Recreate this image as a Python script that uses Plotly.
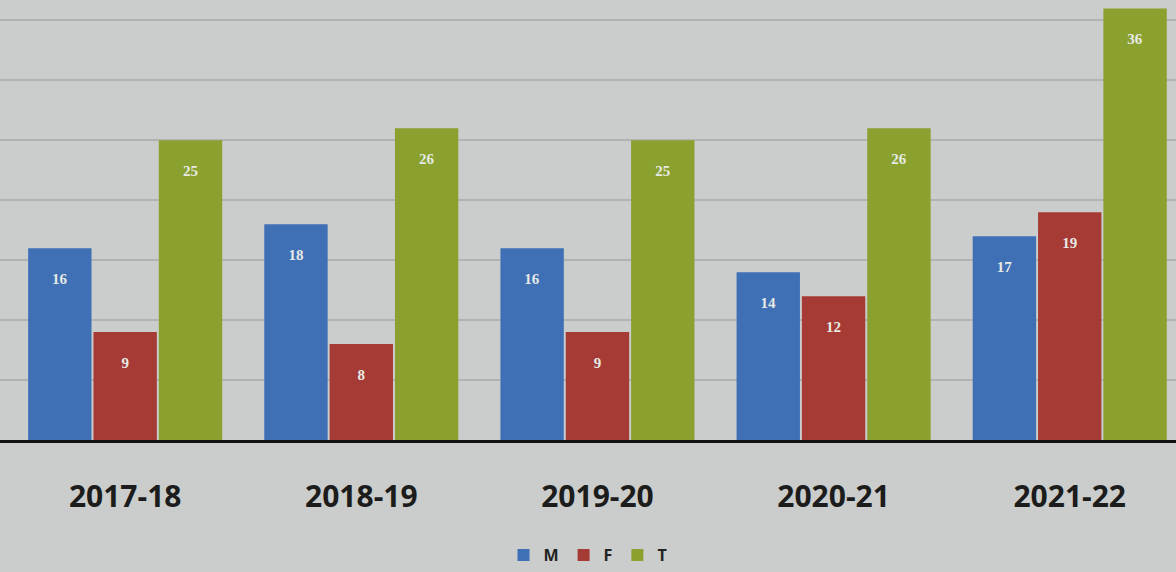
import plotly.graph_objs as go

# ---- Data ----
years = ['2017-18', '2018-19', '2019-20', '2020-21', '2021-22']
male = [16, 18, 16, 14, 17]
female = [9, 8, 9, 12, 19]
total = [25, 26, 25, 26, 36]

series = [
    ('M', male, '#3f70b6'),
    ('F', female, '#a63b36'),
    ('T', total, '#8aa02f'),
]


def main():
    bars = [
        go.Bar(
            x=years,
            y=vals,
            name=name,
            marker=dict(color=color, line=dict(width=0)),
            # blank first line pushes the label a bit below the bar top
            text=['\u00a0<br>' + str(v) for v in vals],
            textposition='inside',
            insidetextanchor='end',
            textangle=0,
            textfont=dict(family='Liberation Serif', size=15,
                          color='#e6eae4', weight='bold'),
        ) for name, vals, color in series
    ]
    layout = go.Layout(
        width=1176,
        height=572,
        barmode='group',
        bargap=0.17,
        bargroupgap=0.03,
        paper_bgcolor='#cacdcb',
        plot_bgcolor='#cacdcb',
        margin=dict(l=0, r=0, t=0, b=132),
        font=dict(family='Open Sans', color='#1a1a1a'),
        xaxis=dict(
            range=[-0.53, 4.45],
            showline=True,
            linecolor='#111111',
            linewidth=2.5,
            tickfont=dict(size=30, family='Open Sans', weight='bold',
                          color='#1c1c1c'),
            ticks='',
            ticklabelstandoff=28,
        ),
        yaxis=dict(
            range=[0, 36.7],
            dtick=5,
            showgrid=True,
            gridcolor='#b0b3b2',
            gridwidth=1.5,
            showticklabels=False,
            zeroline=False,
        ),
        legend=dict(
            orientation='h',
            x=0.5,
            xanchor='center',
            yref='container',
            y=0.0,
            yanchor='bottom',
            font=dict(size=16, family='Open Sans', weight='bold',
                      color='#222222'),
            itemwidth=30,
            traceorder='normal',
        ),
    )
    fig = go.Figure(data=bars, layout=layout)
    fig.write_html('out.html', config={'displayModeBar': False},
                   post_script="document.body.style.margin='0';")


if __name__ == '__main__':
    main()
